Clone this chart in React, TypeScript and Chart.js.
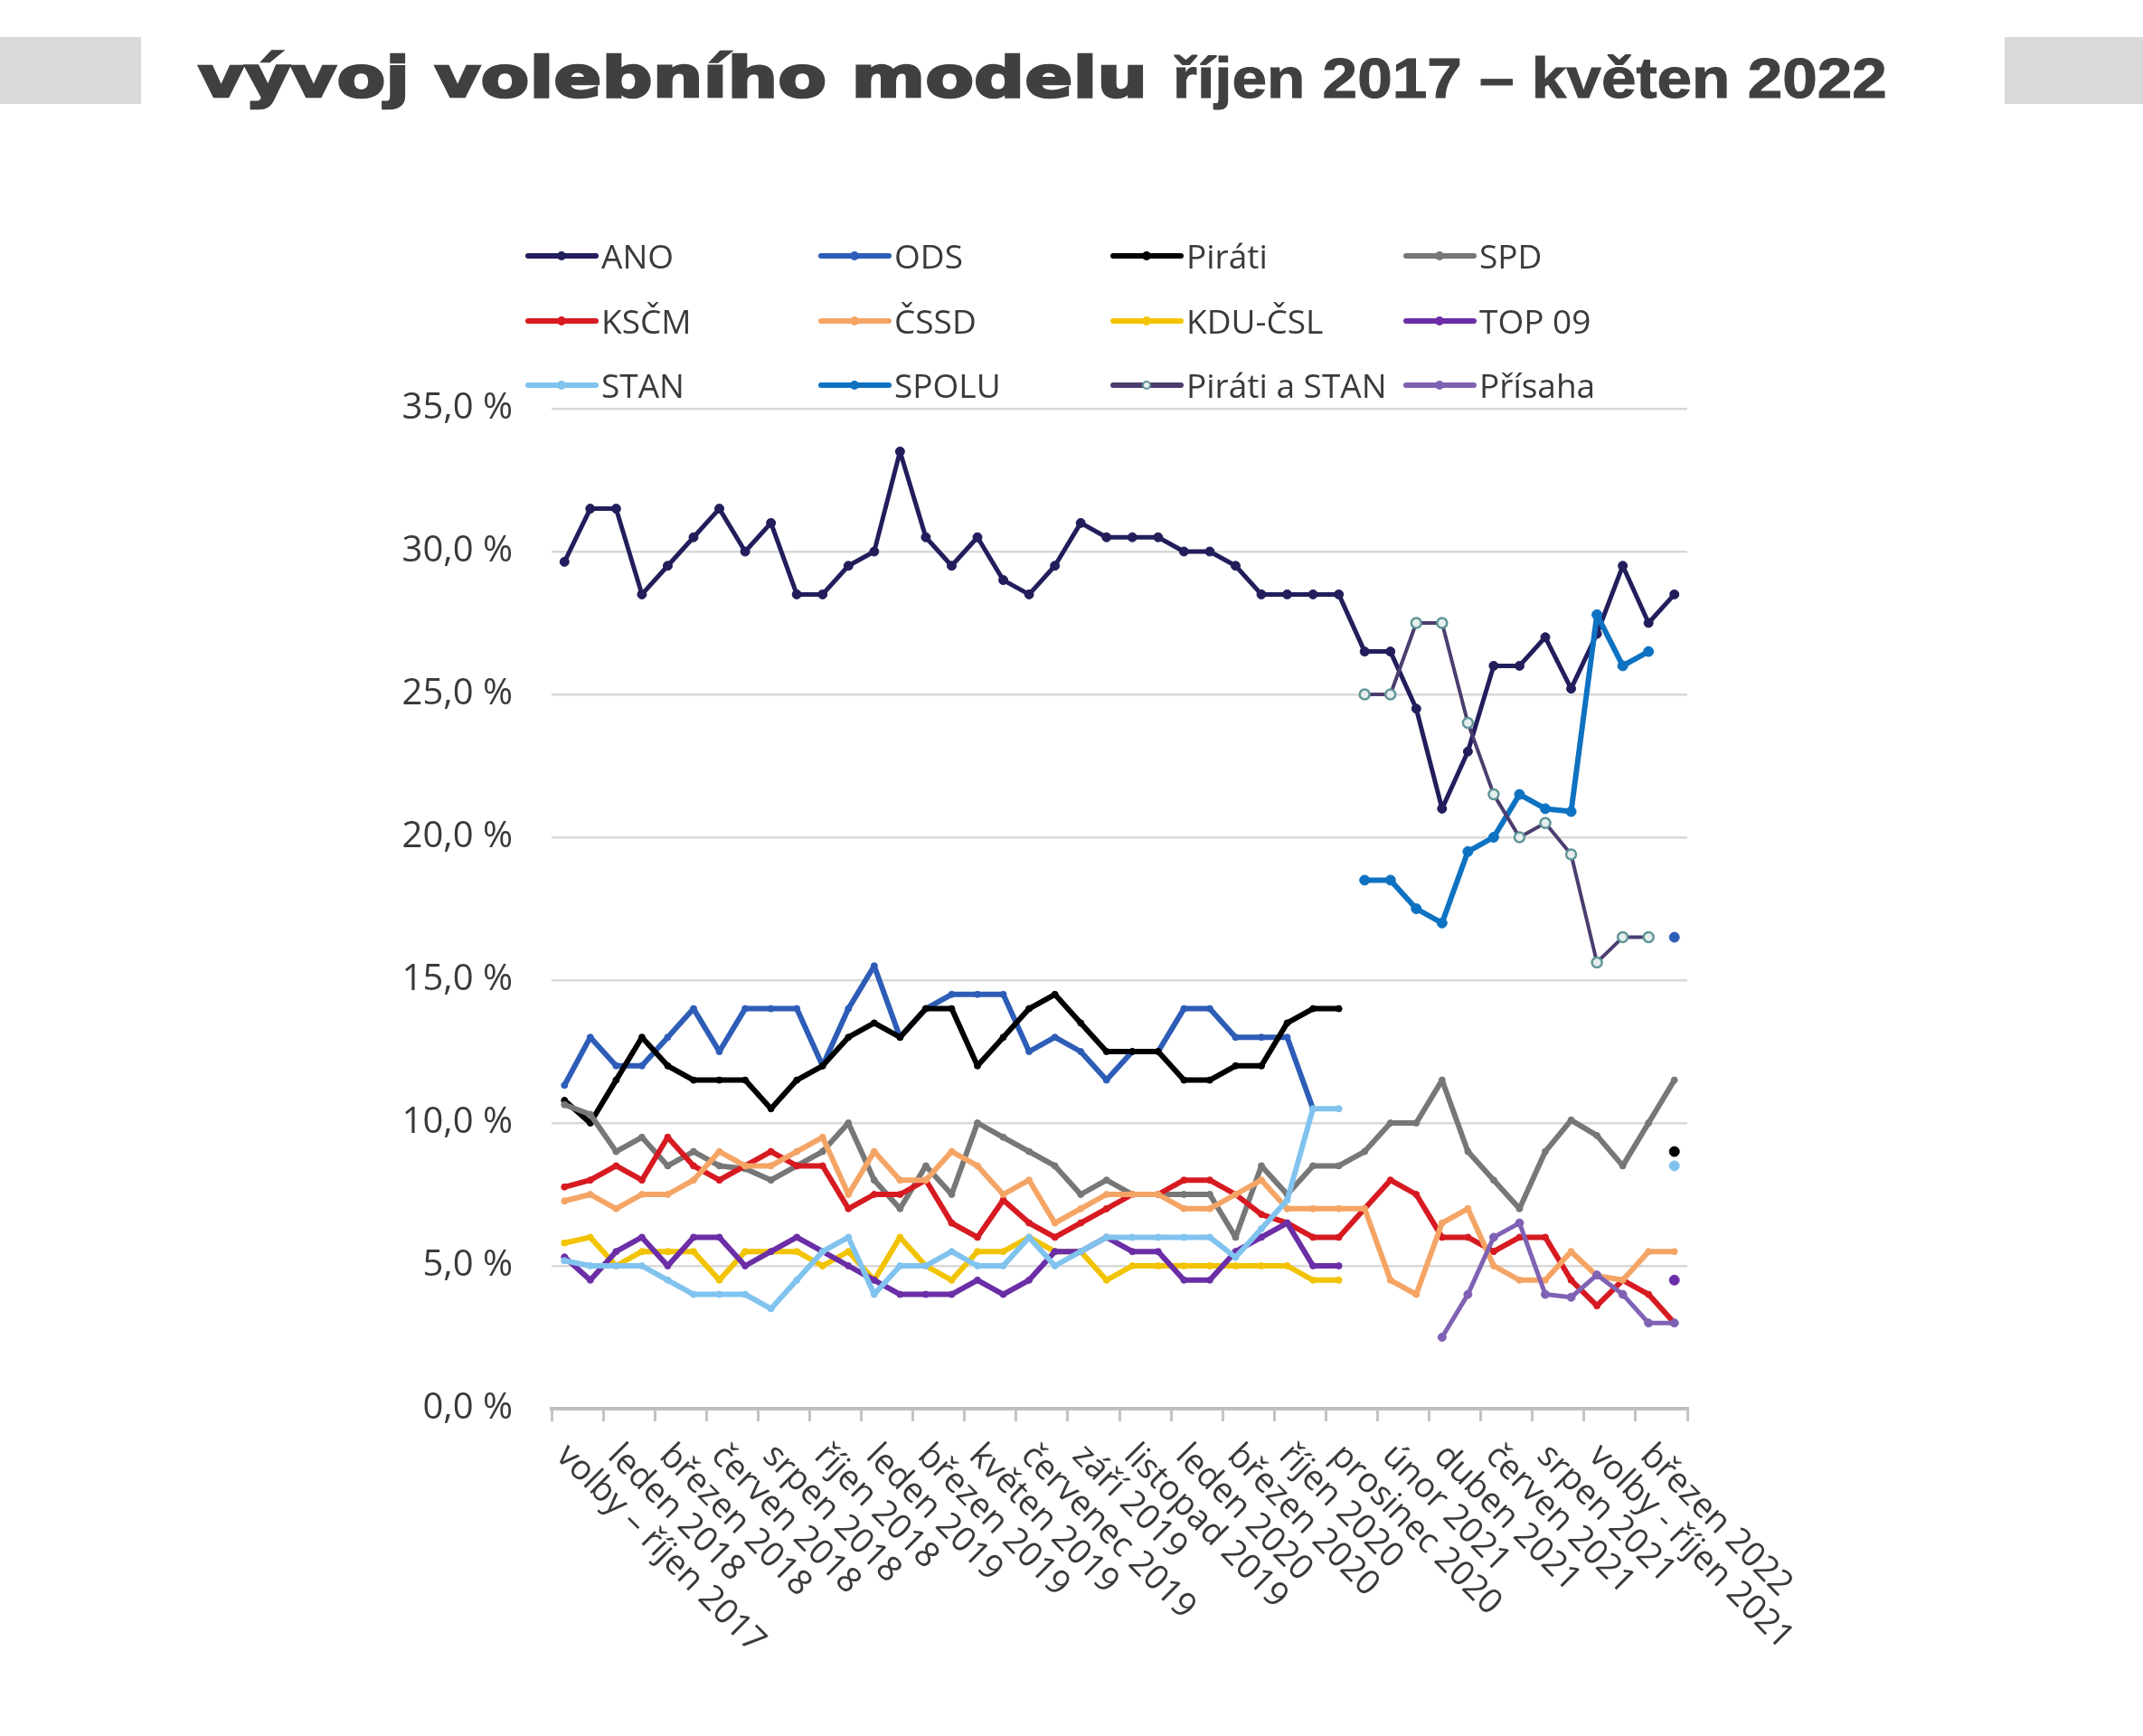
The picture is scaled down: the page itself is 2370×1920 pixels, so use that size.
import React, { useEffect, useRef } from 'react';
import { Chart, registerables } from 'chart.js';

Chart.register(...registerables);

// ---------- DATA ----------
const categories: string[] = [
  'volby – říjen 2017', '', 'leden 2018', '', 'březen 2018', '', 'červen 2018', '',
  'srpen 2018', '', 'říjen 2018', '', 'leden 2019', '', 'březen 2019', '',
  'květen 2019', '', 'červenec 2019', '', 'září 2019', '', 'listopad 2019', '',
  'leden 2020', '', 'březen 2020', '', 'říjen 2020', '', 'prosinec 2020', '',
  'únor 2021', '', 'duben 2021', '', 'červen 2021', '', 'srpen 2021', '',
  'volby - říjen 2021', '', 'březen 2022', '',
];

const yTicks = [0, 5, 10, 15, 20, 25, 30, 35];

const N = null;

const ano = [29.64, 31.5, 31.5, 28.5, 29.5, 30.5, 31.5, 30, 31, 28.5, 28.5, 29.5, 30, 33.5, 30.5, 29.5, 30.5, 29, 28.5, 29.5,
  31, 30.5, 30.5, 30.5, 30, 30, 29.5, 28.5, 28.5, 28.5, 28.5, 26.5, 26.5, 24.5, 21, 23, 26, 26, 27, 25.2, 27.12, 29.5, 27.5, 28.5];

const ods = [11.32, 13, 12, 12, 13, 14, 12.5, 14, 14, 14, 12, 14, 15.5, 13, 14, 14.5, 14.5, 14.5, 12.5, 13,
  12.5, 11.5, 12.5, 12.5, 14, 14, 13, 13, 13, 10.5, N, N, N, N, N, N, N, N, N, N, N, N, N, 16.5];

const pirati = [10.79, 10, 11.5, 13, 12, 11.5, 11.5, 11.5, 10.5, 11.5, 12, 13, 13.5, 13, 14, 14, 12, 13, 14, 14.5,
  13.5, 12.5, 12.5, 12.5, 11.5, 11.5, 12, 12, 13.5, 14, 14, N, N, N, N, N, N, N, N, N, N, N, N, 9];

const spd = [10.64, 10.3, 9, 9.5, 8.5, 9, 8.5, 8.4, 8, 8.5, 9, 10, 8, 7, 8.5, 7.5, 10, 9.5, 9, 8.5,
  7.5, 8, 7.5, 7.5, 7.5, 7.5, 6, 8.5, 7.5, 8.5, 8.5, 9, 10, 10, 11.5, 9, 8, 7, 9, 10.1, 9.56, 8.5, 10, 11.5];

const kscm = [7.76, 8, 8.5, 8, 9.5, 8.5, 8, 8.5, 9, 8.5, 8.5, 7, 7.5, 7.5, 8, 6.5, 6, 7.3, 6.5, 6,
  6.5, 7, 7.5, 7.5, 8, 8, 7.5, 6.8, 6.5, 6, 6, 7, 8, 7.5, 6, 6, 5.5, 6, 6, 4.5, 3.6, 4.5, 4, 3];

const cssd = [7.27, 7.5, 7, 7.5, 7.5, 8, 9, 8.5, 8.5, 9, 9.5, 7.5, 9, 8, 8, 9, 8.5, 7.5, 8, 6.5,
  7, 7.5, 7.5, 7.5, 7, 7, 7.5, 8, 7, 7, 7, 7, 4.5, 4, 6.5, 7, 5, 4.5, 4.5, 5.5, 4.65, 4.5, 5.5, 5.5];

const kdu = [5.8, 6, 5, 5.5, 5.5, 5.5, 4.5, 5.5, 5.5, 5.5, 5, 5.5, 4.5, 6, 5, 4.5, 5.5, 5.5, 6, 5.5,
  5.5, 4.5, 5, 5, 5, 5, 5, 5, 5, 4.5, 4.5, N, N, N, N, N, N, N, N, N, N, N, N, N];

const top09 = [5.31, 4.5, 5.5, 6, 5, 6, 6, 5, 5.5, 6, 5.5, 5, 4.5, 4, 4, 4, 4.5, 4, 4.5, 5.5,
  5.5, 6, 5.5, 5.5, 4.5, 4.5, 5.5, 6, 6.5, 5, 5, N, N, N, N, N, N, N, N, N, N, N, N, 4.5];

const stan = [5.18, 5, 5, 5, 4.5, 4, 4, 4, 3.5, 4.5, 5.5, 6, 4, 5, 5, 5.5, 5, 5, 6, 5,
  5.5, 6, 6, 6, 6, 6, 5.3, 6.3, 7.3, 10.5, 10.5, N, N, N, N, N, N, N, N, N, N, N, N, 8.5];

const spolu = [N, N, N, N, N, N, N, N, N, N, N, N, N, N, N, N, N, N, N, N,
  N, N, N, N, N, N, N, N, N, N, N, 18.5, 18.5, 17.5, 17, 19.5, 20, 21.5, 21, 20.9, 27.79, 26, 26.5, N];

const piratiStan = [N, N, N, N, N, N, N, N, N, N, N, N, N, N, N, N, N, N, N, N,
  N, N, N, N, N, N, N, N, N, N, N, 25, 25, 27.5, 27.5, 24, 21.5, 20, 20.5, 19.4, 15.62, 16.5, 16.5, N];

const prisaha = [N, N, N, N, N, N, N, N, N, N, N, N, N, N, N, N, N, N, N, N,
  N, N, N, N, N, N, N, N, N, N, N, N, N, N, 2.5, 4, 6, 6.5, 4, 3.9, 4.68, 4, 3, 3];

const seriesNames = ['ANO', 'ODS', 'Piráti', 'SPD', 'KSČM', 'ČSSD', 'KDU-ČSL', 'TOP 09', 'STAN', 'SPOLU', 'Piráti a STAN', 'Přísaha'];
const seriesValues = [ano, ods, pirati, spd, kscm, cssd, kdu, top09, stan, spolu, piratiStan, prisaha];

// ---------- STYLES ----------
const seriesColors = ['#221e5c', '#2e5db8', '#000000', '#777777', '#d71a21', '#f4a566', '#f2c300', '#6b2ea6', '#80c3ee', '#0e72c2', '#4b3d6f', '#8062b4'];
const lineWidths = [5, 6, 6, 6, 6, 6, 6, 6, 6, 6, 4, 5];
const pointRadii = [5, 3.5, 3.5, 3.5, 3.5, 3.5, 3.5, 3.5, 3.5, 5.5, 5.5, 4.5];

const FONT = "'Open Sans', sans-serif";
const TEXT = '#3a3a3a';

const legendCols = [581, 905, 1228, 1552];
const legendRows = [283, 355, 426];

const xLabelPlugin = {
  id: 'xLabels',
  afterDraw(chart: any) {
    const { ctx, chartArea } = chart;
    const x = chart.scales.x;
    ctx.save();
    ctx.font = `38px ${FONT}`;
    ctx.fillStyle = TEXT;
    ctx.textAlign = 'left';
    ctx.textBaseline = 'middle';
    categories.forEach((lab, i) => {
      if (!lab) return;
      const px = x.getPixelForValue(i);
      ctx.save();
      ctx.translate(px - 3, chartArea.bottom + 46);
      ctx.rotate(Math.PI / 4);
      ctx.fillText(lab, 0, 0);
      ctx.restore();
    });
    ctx.restore();
  },
};

export default function App() {
  const ref = useRef<HTMLCanvasElement>(null);

  useEffect(() => {
    document.body.style.margin = '0';
    const datasets = seriesValues.map((vals, k) => {
      const isPaS = k === 10;
      return {
        label: seriesNames[k],
        data: vals,
        borderColor: seriesColors[k],
        backgroundColor: seriesColors[k],
        borderWidth: lineWidths[k],
        borderJoinStyle: 'round',
        borderCapStyle: 'round',
        pointRadius: (c: any) => {
          const i = c.dataIndex;
          const isolated = vals[i] != null && vals[i - 1] == null && vals[i + 1] == null;
          return isolated ? 5.5 : pointRadii[k];
        },
        pointBackgroundColor: isPaS ? '#e6eeee' : seriesColors[k],
        pointBorderColor: isPaS ? '#5f9597' : seriesColors[k],
        pointBorderWidth: isPaS ? 2.5 : 1,
        tension: 0,
        spanGaps: false,
        order: seriesValues.length - k,
      };
    });

    const chart = new Chart(ref.current!, {
      type: 'line',
      data: { labels: categories, datasets },
      options: {
        responsive: false,
        animation: false,
        devicePixelRatio: 1,
        layout: { padding: { left: 0, top: 452, right: 504, bottom: 0 } },
        plugins: { legend: { display: false }, tooltip: { enabled: false }, title: { display: false } },
        scales: {
          x: {
            type: 'category',
            offset: true,
            ticks: { display: false, autoSkip: false },
            grid: {
              offset: true,
              drawOnChartArea: false,
              drawTicks: true,
              tickLength: 14,
              lineWidth: 3,
              color: (c: any) => (c.index === undefined || c.index % 2 === 0 ? '#c4c4c4' : 'rgba(0,0,0,0)'),
            },
            border: { display: true, color: '#bfbfbf', width: 4 },
            afterFit: (s: any) => { s.height = 362; },
          },
          y: {
            min: 0,
            max: 35,
            afterBuildTicks: (s: any) => { s.ticks = yTicks.map((v) => ({ value: v })); },
            ticks: {
              padding: 43,
              color: TEXT,
              font: { family: FONT, size: 40 },
              callback: (v: any) => Number(v).toFixed(1).replace('.', ',') + ' %',
            },
            grid: { color: '#d9d9d9', lineWidth: 2.5, drawTicks: false },
            border: { display: false },
            afterFit: (s: any) => { s.width = 610; },
          },
        },
      },
      plugins: [xLabelPlugin],
    } as any);
    return () => chart.destroy();
  }, []);

  return (
    <div style={{ position: 'absolute', left: 0, top: 0, width: 2370, height: 1920, background: '#fff', overflow: 'hidden' }}>
      <canvas ref={ref} width={2370} height={1920} style={{ position: 'absolute', left: 0, top: 0, width: 2370, height: 1920 }} />
      <div style={{ position: 'absolute', left: 0, top: 41, width: 156, height: 74, background: '#d9d9d9' }} />
      <div style={{ position: 'absolute', left: 2217, top: 41, width: 153, height: 74, background: '#d9d9d9' }} />
      <div style={{ position: 'absolute', left: 219, top: 54, fontFamily: "'DejaVu Sans', sans-serif", fontWeight: 'bold', fontSize: 63, lineHeight: '63px', color: '#404040', whiteSpace: 'nowrap', transform: 'scaleX(1.245)', transformOrigin: 'left top', WebkitTextStroke: '2.5px #404040' }}>
        vývoj volebního modelu
      </div>
      <div style={{ position: 'absolute', left: 1297, top: 55, fontFamily: "'Liberation Sans', Arial, sans-serif", fontWeight: 'bold', fontSize: 63, lineHeight: '63px', color: '#404040', whiteSpace: 'nowrap', transform: 'scaleX(1.1)', transformOrigin: 'left top', WebkitTextStroke: '1px #404040' }}>
        říjen 2017 – květen 2022
      </div>
      {seriesNames.map((name, k) => {
        const left = legendCols[k % 4];
        const cy = legendRows[Math.floor(k / 4)];
        const isPaS = k === 10;
        return (
          <div key={name} style={{ position: 'absolute', left, top: cy - 25, height: 50, display: 'flex', alignItems: 'center', whiteSpace: 'nowrap' }}>
            <div style={{ position: 'relative', width: 81, height: 50 }}>
              <div style={{ position: 'absolute', left: 0, top: 22, width: 81, height: 6, background: seriesColors[k], borderRadius: 3 }} />
              <div style={{
                position: 'absolute', left: 35, top: 20, width: 10, height: 10, borderRadius: '50%', boxSizing: 'border-box',
                background: isPaS ? '#e6eeee' : seriesColors[k], border: `2px solid ${isPaS ? '#5f9597' : seriesColors[k]}`,
              }} />
            </div>
            <span style={{ marginLeft: 3, fontFamily: FONT, fontSize: 37, color: TEXT, lineHeight: '50px' }}>{name}</span>
          </div>
        );
      })}
    </div>
  );
}
